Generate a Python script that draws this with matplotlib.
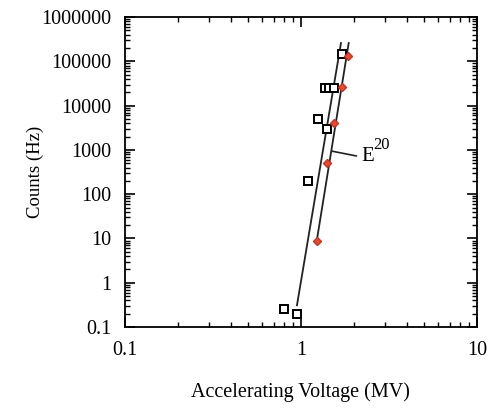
import matplotlib
matplotlib.use("Agg")
import matplotlib.pyplot as plt
import numpy as np

plt.rcParams['font.family'] = ['Liberation Serif', 'DejaVu Serif']

# Open squares (data set 1)
sq_x = [0.80, 0.95, 1.10, 1.25, 1.40, 1.38, 1.45, 1.54, 1.71]
sq_y = [0.25, 0.20, 200, 5000, 3000, 25000, 25000, 25000, 150000]

# Red diamonds (data set 2)
dm_x = [1.23, 1.40, 1.54, 1.71, 1.85]
dm_y = [9, 500, 4000, 27000, 130000]

# Fit lines (endpoints)
fit1_x = [0.95, 1.69]
fit1_y = [0.31, 2.6e5]
fit2_x = [1.23, 1.87]
fit2_y = [8.7, 2.6e5]

fig = plt.figure(figsize=(5.04, 4.08), dpi=100)
ax = fig.add_axes([0.248, 0.1985, 0.698, 0.7595])

ax.plot(fit1_x, fit1_y, color='#222222', lw=1.3)
ax.plot(fit2_x, fit2_y, color='#222222', lw=1.3)
ax.plot(sq_x, sq_y, ls='none', marker='s', ms=5.8, mfc='white', mec='black', mew=1.4)
ax.plot(dm_x, dm_y, ls='none', marker='D', ms=4.2, mfc='#e05030', mec='#c83020', mew=1.0)

ax.set_xscale('log')
ax.set_yscale('log')
ax.set_xlim(0.1, 10)
ax.set_ylim(0.1, 1e6)

ax.set_xticks([0.1, 1, 10])
ax.set_xticklabels(['0.1', '1', '10'])
yt = [0.1, 1, 10, 100, 1000, 10000, 100000, 1000000]
ax.set_yticks(yt)
ax.set_yticklabels(['0.1', '1', '10', '100', '1000', '10000', '100000', '1000000'])

ax.tick_params(which='both', direction='in', top=True, right=True, labelsize=14.5)
ax.tick_params(which='major', length=7, width=1.2, pad=10)
ax.tick_params(which='minor', length=3.5, width=1.0)
for s in ax.spines.values():
    s.set_linewidth(1.3)

ax.set_xlabel('Accelerating Voltage (MV)', fontsize=14.5, labelpad=16)
ax.set_ylabel('Counts (Hz)', fontsize=13.5, labelpad=-2)

# E^20 annotation
ax.annotate('', xy=(1.50, 940), xytext=(2.07, 730),
            arrowprops=dict(arrowstyle='-', color='#222222', lw=1.2,
                            shrinkA=0, shrinkB=0))
ax.text(2.22, 720, 'E', fontsize=15, va='center', ha='left')
ax.annotate('20', xy=(2.22, 720), xytext=(8.5, 2), textcoords='offset points',
            fontsize=12, va='bottom', ha='left')

fig.savefig('out.png', dpi=100)
